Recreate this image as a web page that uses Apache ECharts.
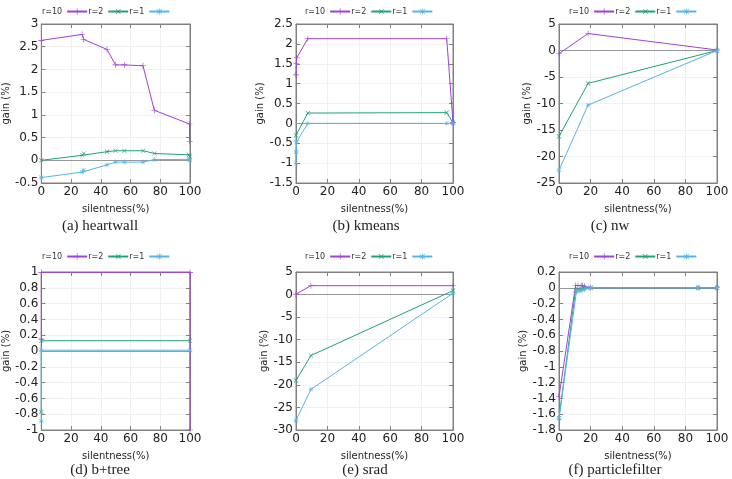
<!DOCTYPE html>
<html><head><meta charset="utf-8">
<script src="https://cdn.jsdelivr.net/npm/echarts@6/dist/echarts.min.js"></script>
<style>html,body{margin:0;padding:0;background:#fff}#c{width:732px;height:479px}</style>
</head><body><div id="c"></div>
<script>
// ---- data: [silentness(%), gain(%)] ----
const seriesNames = ['r=10', 'r=2', 'r=1'];
const xTicks = [0, 20, 40, 60, 80, 100];
const captions = ['(a) heartwall', '(b) kmeans', '(c) nw', '(d) b+tree', '(e) srad', '(f) particlefilter'];

const heartwall_r10 = [[0,2.64],[27.5,2.77],[28.5,2.66],[44.2,2.44],[49.9,2.1],[55.8,2.1],[68.4,2.08],[76,1.1],[99.6,0.8],[99.8,0.42]];
const heartwall_r2  = [[0,0.0],[27.6,0.11],[28.6,0.15],[44.2,0.19],[50,0.21],[55.8,0.21],[68.4,0.21],[76.2,0.15],[99.4,0.12],[99.8,0.08]];
const heartwall_r1  = [[0,-0.38],[27.5,-0.26],[28.5,-0.22],[44.2,-0.10],[50,-0.04],[55.8,-0.04],[68.4,-0.04],[76,0.015],[99.6,0.02],[99.8,0.0]];

const kmeans_r10 = [[0,1.22],[0.2,1.5],[0.5,1.65],[7.5,2.13],[96,2.13],[100,0.02]];
const kmeans_r2  = [[0,-0.3],[7.5,0.26],[96,0.27],[100,0.02]];
const kmeans_r1  = [[0,-1.0],[0.1,-0.72],[0.3,-0.47],[7.5,0.0],[96,0.0],[100,0.0]];

const nw_r10 = [[0,-0.6],[18.4,3.2],[100,0.1]];
const nw_r2  = [[0,-16.2],[18.4,-6.2],[100,0.0]];
const nw_r1  = [[0,-22.6],[18.4,-10.3],[100,0.0]];

const btree_r10 = [[0,0.15],[0,0.995],[100,0.995],[100,-1.0]];
const btree_r2  = [[0,-0.77],[0,0.13],[100,0.13]];
const btree_r1  = [[0,-0.89],[0,0.01],[100,0.01]];

const srad_r10 = [[0,0.1],[9.5,1.97],[100,1.97]];
const srad_r2  = [[0,-19.0],[9.5,-13.5],[100,0.87]];
const srad_r1  = [[0,-27.9],[9.5,-21.0],[100,0.3]];

const pf_r10 = [[0,-1.38],[10.5,0.03],[12,0.03],[14,0.03],[15,0.03],[16,0.02],[20,0.0],[88,0.0],[100,0.0]];
const pf_r2  = [[0,-1.65],[10.5,-0.03],[12.5,-0.02],[14,-0.01],[15.5,0.0],[20,0.0],[88,0.0],[100,0.0]];
const pf_r1  = [[0,-1.65],[11,-0.05],[13,-0.04],[15,-0.03],[16,-0.02],[20,0.0],[88,0.0],[100,0.0]];

const yMin = [-0.5, -1.5, -25, -1, -30, -1.8];
const yMax = [3, 2.5, 5, 1, 5, 0.2];
const yInterval = [0.5, 0.5, 5, 0.2, 5, 0.2];

const panelData = [
  [heartwall_r10, heartwall_r2, heartwall_r1],
  [kmeans_r10, kmeans_r2, kmeans_r1],
  [nw_r10, nw_r2, nw_r1],
  [btree_r10, btree_r2, btree_r1],
  [srad_r10, srad_r2, srad_r1],
  [pf_r10, pf_r2, pf_r1]
];

// ---- styling / layout ----
const colors = ['#a040da', '#1ca37a', '#56b4e9'];
const PLUS = 'path://M0,4.5H10V5.5H0ZM4.5,0H5.5V10H4.5Z';
const STAR = 'path://M0,4.5H10V5.5H0ZM4.5,0H5.5V10H4.5ZM1.3,0.6L9.4,8.7L8.7,9.4L0.6,1.3ZM8.7,0.6L9.4,1.3L1.3,9.4L0.6,8.7Z';
const symbols = [PLUS, PLUS, STAR];
const symbolRot = [0, 45, 0];
const grids = [
  {left: 32, top: 24, width: 158, height: 159},
  {left: 296, top: 24, width: 157, height: 159},
  {left: 559, top: 24, width: 158, height: 159},
  {left: 32, top: 272, width: 158, height: 158},
  {left: 296, top: 272, width: 157, height: 158},
  {left: 559, top: 272, width: 158, height: 158}
];
const legendPos = [[42, 7], [305, 7], [569, 7], [42, 252], [305, 252], [569, 252]];
const captionPos = [[100, 226], [366, 226], [610, 226], [100, 470], [365, 470], [615, 470]];
const yNameGap = [25, 25, 23, 25, 23, 27];

const FONT = 'DejaVu Sans';
const AXC = '#808080';
const option = {
  animation: false,
  backgroundColor: '#fff',
  grid: grids.map(g => Object.assign({show: true, borderColor: AXC, borderWidth: 1, backgroundColor: 'transparent'}, g)),
  legend: legendPos.map(p => ({
    data: seriesNames, left: p[0], top: p[1], align: 'right', selectedMode: false, padding: 0,
    itemWidth: 20, itemHeight: 8, itemGap: 0,
    textStyle: {fontFamily: FONT, fontSize: 8, color: '#333'}
  })),
  graphic: captions.map((t, i) => ({
    type: 'text', x: captionPos[i][0], y: captionPos[i][1], silent: true,
    style: {text: t, textAlign: 'center', textVerticalAlign: 'middle',
      font: '15px "Liberation Serif"', fill: '#222'}
  })),
  xAxis: [],
  yAxis: [],
  series: []
};

grids.forEach((g, i) => {
  option.xAxis.push({
    type: 'value', gridIndex: i, min: xTicks[0], max: xTicks[xTicks.length - 1], interval: xTicks[1] - xTicks[0],
    name: 'silentness(%)', nameLocation: 'middle', nameGap: 21,
    nameTextStyle: {fontFamily: FONT, fontSize: 10, color: '#222'},
    axisLine: {show: true, lineStyle: {color: AXC}, onZero: false},
    axisTick: {inside: true, length: 4, lineStyle: {color: AXC}},
    axisLabel: {fontFamily: FONT, fontSize: 12, color: '#222', margin: 3},
    splitLine: {show: true, lineStyle: {color: '#f0f0f0', width: 1}}
  });
  option.yAxis.push({
    type: 'value', gridIndex: i, min: yMin[i], max: yMax[i], interval: yInterval[i],
    name: 'gain (%)', nameLocation: 'middle', nameGap: yNameGap[i], nameRotate: 90,
    nameTextStyle: {fontFamily: FONT, fontSize: 10, color: '#222'},
    axisLine: {show: true, lineStyle: {color: AXC}},
    axisTick: {inside: true, length: 4, lineStyle: {color: AXC}},
    axisLabel: {fontFamily: FONT, fontSize: 12, color: '#222', margin: 3,
      formatter: v => String(Math.round(v * 100) / 100)},
    splitLine: {show: true, lineStyle: {color: '#f0f0f0', width: 1}}
  });
});
// mirrored ticks on top/right
grids.forEach((g, i) => {
  option.xAxis.push({
    type: 'value', gridIndex: i, position: 'top', min: xTicks[0], max: xTicks[xTicks.length - 1], interval: xTicks[1] - xTicks[0],
    axisLine: {show: true, lineStyle: {color: AXC}, onZero: false},
    axisTick: {inside: true, length: 4, lineStyle: {color: AXC}},
    axisLabel: {show: false}, splitLine: {show: false}
  });
  option.yAxis.push({
    type: 'value', gridIndex: i, position: 'right', min: yMin[i], max: yMax[i], interval: yInterval[i],
    axisLine: {show: true, lineStyle: {color: AXC}, onZero: false},
    axisTick: {inside: true, length: 4, lineStyle: {color: AXC}},
    axisLabel: {show: false}, splitLine: {show: false}
  });
});

panelData.forEach((panel, pi) => {
  panel.forEach((data, si) => {
    const s = {
      name: seriesNames[si], type: 'line', xAxisIndex: pi, yAxisIndex: pi,
      data: data, symbol: symbols[si], symbolSize: si === 2 ? 5 : 6, symbolRotate: symbolRot[si],
      showAllSymbol: true, clip: true,
      lineStyle: {color: colors[si], width: 1},
      itemStyle: {color: colors[si]},
      emphasis: {disabled: true}, z: 3 + si
    };
    if (si === 0) {
      s.markLine = {silent: true, symbol: 'none', label: {show: false},
        lineStyle: {color: '#999', width: 1, type: 'solid'}, data: [{yAxis: 0}], z: 1};
    }
    option.series.push(s);
  });
});

const chart = echarts.init(document.getElementById('c'), null, {renderer: 'canvas'});
chart.setOption(option);
</script></body></html>
